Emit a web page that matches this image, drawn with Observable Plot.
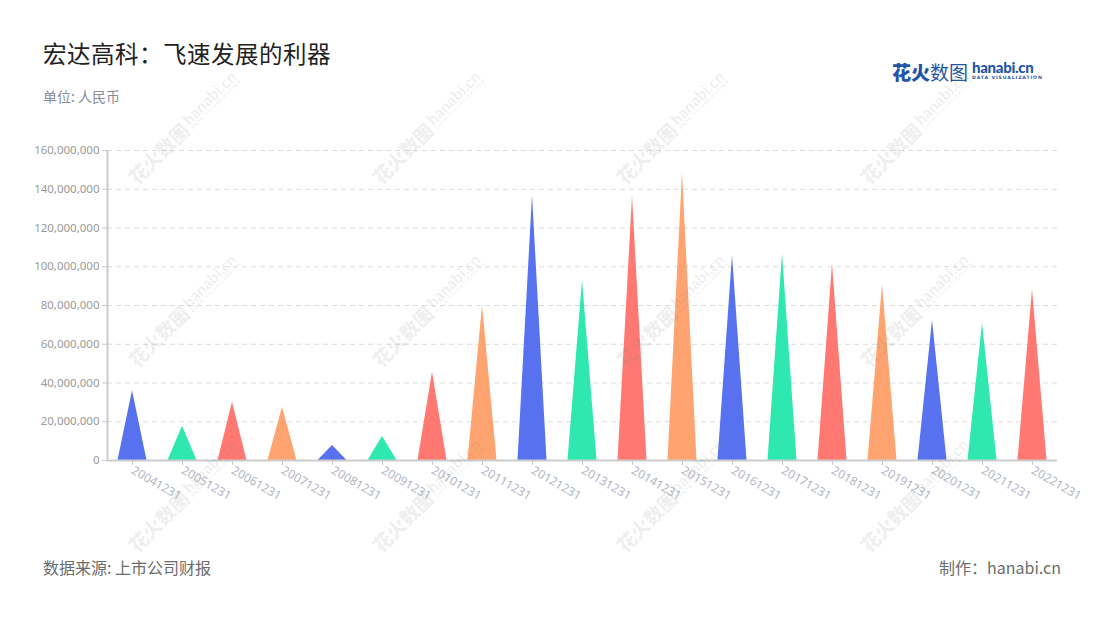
<!DOCTYPE html>
<html>
<head>
<meta charset="utf-8">
<script src="https://cdn.jsdelivr.net/npm/d3@7"></script>
<script src="https://cdn.jsdelivr.net/npm/@observablehq/plot@0.6"></script>
<style>
  html, body { margin: 0; padding: 0; background: #fff; }
  #root { position: relative; width: 1100px; height: 620px; overflow: hidden; font-family: "Noto Sans CJK SC", "Noto Sans", sans-serif; }
  #chart { position: absolute; left: 0; top: 0; }
  .title { position: absolute; left: 43px; top: 36px; font-size: 23.5px; color: #222; letter-spacing: 0.5px; }
  .subtitle { position: absolute; left: 43px; top: 86px; font-size: 14px; color: #8a8c99; }
  .source { position: absolute; left: 43px; top: 555px; font-size: 16px; color: #6b6b6b; }
  .maker { position: absolute; right: 39px; top: 555px; font-size: 16px; color: #6b6b6b; }
  .logo { position: absolute; left: 892px; top: 58px; color: #1f55a6; white-space: nowrap; }
  .logo .cn { font-size: 19px; vertical-align: top; }
  .logo .cn b { font-weight: 900; }
  .logo .en { display: inline-block; vertical-align: top; margin-left: 4px; margin-top: 2px; line-height: 1; }
  .logo .en .big { font-family: "Lato", "DejaVu Sans", sans-serif; font-weight: 900; font-size: 15px; letter-spacing: -0.3px; }
  .logo .en .small { font-family: "DejaVu Sans", sans-serif; font-weight: bold; font-size: 4.6px; letter-spacing: 0.9px; margin-top: 1px; }
  .wm { position: absolute; transform: translate(-50%, -50%) rotate(-45deg); color: rgba(130,130,130,0.12); white-space: nowrap; pointer-events: none; }
  .wm .cn { font-size: 19px; font-weight: 900; vertical-align: middle; }
  .wm .en { display: inline-block; vertical-align: middle; margin-left: 3px; line-height: 1; }
  .wm .en .big { font-family: "Lato", sans-serif; font-weight: 900; font-size: 16px; }
  .wm .en .small { font-family: "DejaVu Sans", sans-serif; font-weight: bold; font-size: 4.6px; letter-spacing: 0.8px; }
</style>
</head>
<body>
<div id="root">
  <div id="chart"></div>
  <div class="title">宏达高科：飞速发展的利器</div>
  <div class="subtitle">单位: 人民币</div>
  <div class="logo"><span class="cn"><b>花火</b>数图</span><span class="en"><div class="big">hanabi.cn</div><div class="small">DATA VISUALIZATION</div></span></div>
  <div class="source">数据来源: 上市公司财报</div>
  <div class="maker">制作：hanabi.cn</div>
</div>
<script>
// ---- data ----
const categories = ["20041231","20051231","20061231","20071231","20081231","20091231","20101231","20111231","20121231","20131231","20141231","20151231","20161231","20171231","20181231","20191231","20201231","20211231","20221231"];
const values = [36000000, 17700000, 30100000, 27500000, 7700000, 12400000, 45600000, 80000000, 136800000, 92900000, 136400000, 148300000, 105800000, 106700000, 101500000, 90800000, 72300000, 70900000, 88300000];
const palette = ["#5872ef", "#2ee8b0", "#ff7872", "#ffa470"];
const yTicks = [0, 20000000, 40000000, 60000000, 80000000, 100000000, 120000000, 140000000, 160000000];

// triangle outlines built from the values (base half-width in band units)
const half = 0.29;
const tri = [];
values.forEach((v, i) => {
  const color = palette[i % palette.length];
  tri.push({i, x: i - half, y: 0, color});
  tri.push({i, x: i, y: v, color});
  tri.push({i, x: i + half, y: 0, color});
});

const chart = Plot.plot({
  width: 1100,
  height: 620,
  marginTop: 150,
  marginBottom: 160,
  marginLeft: 107,
  marginRight: 43,
  style: {fontFamily: "'Noto Sans', sans-serif", background: "transparent"},
  x: {type: "linear", domain: [-0.5, categories.length - 0.5], axis: null, label: null},
  y: {domain: [0, 160000000], axis: null, label: null},
  color: {type: "identity"},
  marks: [
    Plot.gridY(yTicks.slice(1), {stroke: "#dcdcdc", strokeOpacity: 1, strokeDasharray: "5,4"}),
    Plot.areaY(tri, {x: "x", y: "y", z: "i", fill: "color", curve: "linear"}),
    Plot.axisY(yTicks, {label: null, tickFormat: d3.format(","), tickSize: 5, tickPadding: 3, stroke: "#c8c8c8", fill: "#9a9a9a", fontSize: 11.5}),
    Plot.axisX(d3.range(categories.length), {label: null, tickFormat: i => categories[i], tickRotate: 30, tickSize: 5, tickPadding: 4, stroke: "#c8c8c8", fill: "#b3b6c4", fontSize: 12}),
    Plot.ruleX([-0.5], {stroke: "#cccccc", strokeWidth: 2}),
    Plot.ruleY([0], {stroke: "#cccccc", strokeWidth: 2})
  ]
});
document.getElementById("chart").appendChild(chart);

// faint watermarks
const wmX = [183, 427, 671, 915];
const wmY = [127, 310, 495];
const root = document.getElementById("root");
for (const y of wmY) for (const x of wmX) {
  const d = document.createElement("div");
  d.className = "wm";
  d.style.left = x + "px";
  d.style.top = y + "px";
  d.innerHTML = '<span class="cn">花火数图</span><span class="en"><div class="big">hanabi.cn</div><div class="small">DATA VISUALIZATION</div></span>';
  root.appendChild(d);
}
</script>
</body>
</html>
